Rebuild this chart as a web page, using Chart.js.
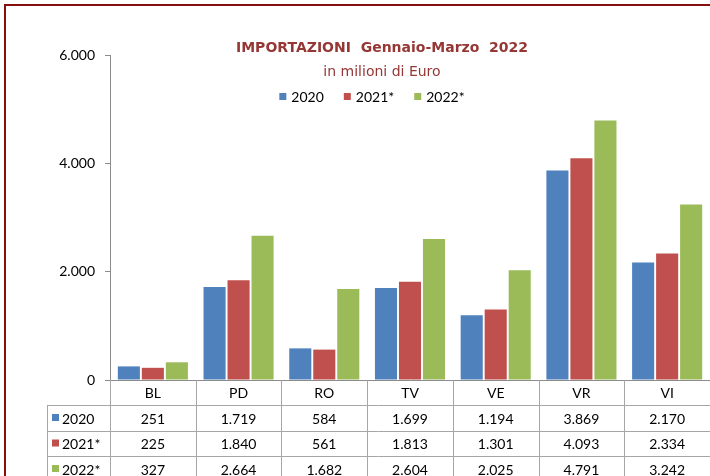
<!DOCTYPE html>
<html><head><meta charset="utf-8">
<script src="https://cdn.jsdelivr.net/npm/chart.js@4/dist/chart.umd.min.js"></script>
<style>
html,body{margin:0;padding:0;background:#fff;overflow:hidden;}
#wrap{position:relative;width:710px;height:476px;}
</style></head>
<body><div id="wrap"><canvas id="c" width="710" height="476"></canvas></div>
<script>
const categories = ['BL','PD','RO','TV','VE','VR','VI'];
const values2020 = [251,1719,584,1699,1194,3869,2170];
const values2021 = [225,1840,561,1813,1301,4093,2334];
const values2022 = [327,2664,1682,2604,2025,4791,3242];
const seriesLabels = ['2020','2021*','2022*'];
const seriesColors = ['#4F81BD','#C0504D','#9BBB59'];
const yTickValues = [0,2000,4000,6000];
const titleText = 'IMPORTAZIONI  Gennaio-Marzo  2022';
const subtitleText = 'in milioni di Euro';

function fmt(n){ return String(n).replace(/\B(?=(\d{3})+(?!\d))/g,'.'); }

const TABLE_FONT = '14px Lato, "Liberation Sans", sans-serif';
const GRID = '#a6a6a6';

const decor = {
  id:'decor',
  afterDraw(chart){
    const ctx = chart.ctx, area = chart.chartArea, xs = chart.scales.x;
    const n = categories.length;
    const cw = xs.width / n;
    const rowTop = [area.bottom, area.bottom+25, area.bottom+51, area.bottom+76, area.bottom+102];
    const leftCol = 47;
    ctx.save();
    // table grid
    ctx.strokeStyle = GRID; ctx.lineWidth = 1;
    ctx.beginPath();
    for (let r=1;r<rowTop.length-1;r++){ const y=Math.round(rowTop[r])+0.5; ctx.moveTo(leftCol,y); ctx.lineTo(area.right,y); }
    ctx.moveTo(leftCol+0.5,rowTop[1]); ctx.lineTo(leftCol+0.5,rowTop[4]);
    for (let i=0;i<=n;i++){
      const x = Math.round(xs.getPixelForValue(0) - cw/2 + i*cw) + 0.5;
      ctx.moveTo(x,rowTop[0]); ctx.lineTo(x,rowTop[4]);
    }
    ctx.stroke();
    // header labels
    ctx.fillStyle = '#000'; ctx.font = TABLE_FONT; ctx.textAlign='center'; ctx.textBaseline='middle';
    categories.forEach((c,i)=>{ ctx.fillText(c, xs.getPixelForValue(i), (rowTop[0]+rowTop[1])/2+1); });
    const series = [values2020, values2021, values2022];
    series.forEach((vals,r)=>{
      const yc = (rowTop[r+1]+rowTop[r+2])/2 + 1;
      ctx.textAlign='center';
      vals.forEach((v,i)=>{ ctx.fillText(fmt(v), xs.getPixelForValue(i), yc); });
      ctx.fillStyle = seriesColors[r];
      ctx.fillRect(leftCol+5, yc-5, 7, 7);
      ctx.fillStyle = '#000'; ctx.textAlign='left';
      ctx.fillText(seriesLabels[r], leftCol+15, yc);
    });
    // title
    ctx.textAlign='center'; ctx.textBaseline='middle';
    ctx.fillStyle = '#953735';
    ctx.font = 'bold 14px "DejaVu Sans", Verdana, sans-serif';
    ctx.fillText(titleText, 382, 48);
    ctx.font = '14px "DejaVu Sans", Verdana, sans-serif';
    ctx.fillText(subtitleText, 382, 72);
    // legend
    ctx.font = '14px Lato, "Liberation Sans", sans-serif';
    const sq=7, gapT=5, gapI=20;
    const widths = seriesLabels.map(l=>ctx.measureText(l).width);
    let total = widths.reduce((a,w)=>a+sq+gapT+w,0) + gapI*(seriesLabels.length-1);
    let x = 372 - total/2;
    seriesLabels.forEach((l,i)=>{
      ctx.fillStyle = seriesColors[i];
      ctx.fillRect(x, 93, sq, sq);
      ctx.fillStyle = '#000'; ctx.textAlign='left';
      ctx.fillText(l, x+sq+gapT, 97);
      x += sq+gapT+widths[i]+gapI;
    });
    // outer frame
    ctx.strokeStyle = '#850e0e'; ctx.lineWidth = 2;
    ctx.beginPath();
    ctx.moveTo(5,476); ctx.lineTo(5,5); ctx.lineTo(710,5);
    ctx.stroke();
    ctx.restore();
  }
};

new Chart(document.getElementById('c'), {
  type:'bar',
  data:{
    labels: categories,
    datasets:[
      {label:seriesLabels[0], data:values2020, backgroundColor:seriesColors[0]},
      {label:seriesLabels[1], data:values2021, backgroundColor:seriesColors[1]},
      {label:seriesLabels[2], data:values2022, backgroundColor:seriesColors[2]}
    ]
  },
  options:{
    responsive:false, animation:false, devicePixelRatio:1,
    categoryPercentage:0.84, barPercentage:0.92,
    layout:{padding:{top:55,bottom:96,left:0,right:0}},
    plugins:{legend:{display:false}, title:{display:false}, tooltip:{enabled:false}},
    scales:{
      x:{
        grid:{display:false, drawTicks:false},
        border:{display:true, color:'#8c8c8c'},
        ticks:{display:false},
        afterFit(s){ s.height = 0; }
      },
      y:{
        min:0, max:6000,
        afterBuildTicks(s){ s.ticks = yTickValues.map(v=>({value:v})); },
        grid:{drawOnChartArea:false, drawTicks:true, tickLength:5, color:'#8c8c8c'},
        border:{display:true, color:'#8c8c8c'},
        ticks:{padding:10, color:'#000', font:{family:'Lato, "Liberation Sans", sans-serif', size:14}, callback:(v)=>fmt(v)},
        afterFit(s){ s.width = 110; }
      }
    }
  },
  plugins:[decor]
});
</script></body></html>
